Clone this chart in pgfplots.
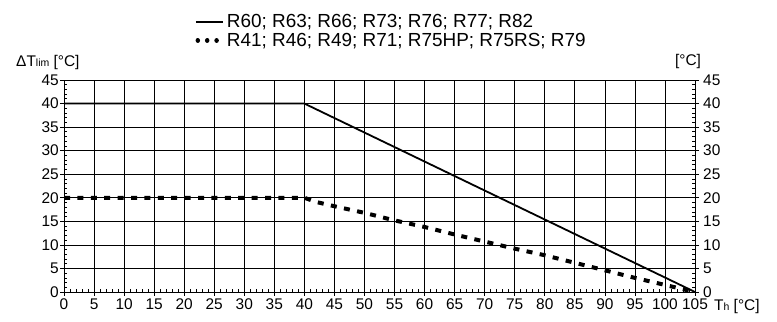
\documentclass[border=0pt]{standalone}
\usepackage{pgfplots}
\pgfplotsset{compat=1.18}
\usepackage{fontspec}
\setmainfont{Liberation Sans}
\begin{document}
\begin{tikzpicture}[x=1bp,y=1bp]
\path[use as bounding box] (-64bp,-30bp) rectangle (713bp,292bp);
\pgfplotsset{
  common/.style={
    at={(0,0)}, anchor=south west,
    scale only axis, width=631bp, height=212bp,
    xmin=0, xmax=105, ymin=0, ymax=45,
    xtick={0,5,...,105}, ytick={0,5,...,45},
    minor x tick num=4, minor y tick num=4,
    axis line style={black, line width=0.9bp},
    tick style={black, line width=0.7bp},
    tick align=outside, major tick length=4bp, minor tick length=-3bp,
    tick label style={font=\fontsize{15.5}{17}\selectfont},
    /pgf/number format/assume math mode=true,
  }
}
\begin{axis}[common,
  grid=major, major grid style={black, line width=0.7bp},
  xtick pos=bottom, ytick pos=left,
  yticklabel style={inner sep=1bp},
  xticklabel style={inner sep=1bp, yshift=-2bp},
  legend style={at={(axis description cs:0.205,1.32)}, anchor=north west,
    draw=none, fill=none, font=\fontsize{19}{22}\selectfont,
    row sep=0bp, inner sep=0bp, nodes={inner sep=2bp}},
  legend cell align=left,
  legend image code/.code={\draw[#1] (0bp,0bp) -- (27bp,0bp);},
]
\addlegendimage{black, line width=2bp}
\addlegendentry{R60; R63; R66; R73; R76; R77; R82}
\addlegendimage{black, line width=4.4bp, line cap=round, dash pattern=on 0.1bp off 9.3bp, dash phase=-2bp}
\addlegendentry{R41; R46; R49; R71; R75HP; R75RS; R79}
\addplot[black, line width=1.8bp, forget plot] coordinates {(0,40) (40,40) (105,0)};
\addplot[black, line width=4bp, dash pattern=on 6bp off 7.4bp, forget plot] coordinates {
(0,20) (40,20) (42,19.1) (45,18.2) (50,16.8) (55,15.2) (60,13.8) (65,12.2) (70,10.7)
(75,9.2) (80,7.8) (85,6.2) (90,4.6) (95,3.0) (100,1.5) (105,0)};
\end{axis}
\begin{axis}[common,
  axis x line=none,
  ytick pos=right, yticklabel pos=right,
  yticklabel style={inner sep=1bp, xshift=3bp},
]
\addplot[draw=none] coordinates {(0,0)};
\end{axis}
\node[anchor=west, font=\fontsize{15.5}{17}\selectfont, inner sep=0pt] at (-48bp,229bp) {ΔT{\fontsize{10.5}{11}\selectfont lim} [°C]};
\node[font=\fontsize{15.5}{17}\selectfont, inner sep=0pt] at (624bp,230bp) {[°C]};
\node[anchor=west, font=\fontsize{15.5}{17}\selectfont, inner sep=0pt] at (650bp,-15bp) {T{\fontsize{10.5}{11}\selectfont h} [°C]};
\end{tikzpicture}
\end{document}
